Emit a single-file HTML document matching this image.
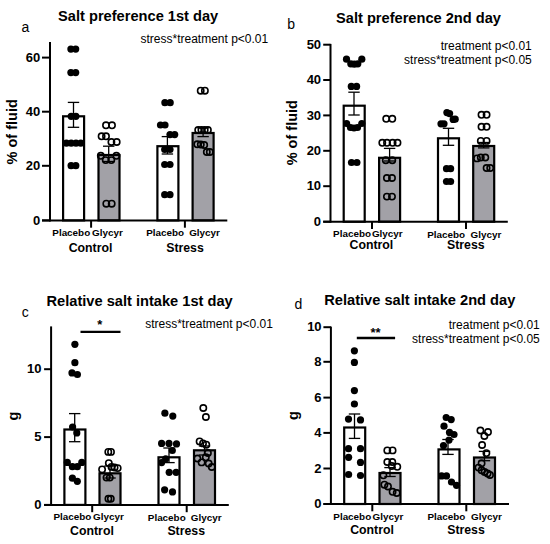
<!DOCTYPE html>
<html><head><meta charset="utf-8"><style>
html,body{margin:0;padding:0;background:#fff;width:550px;height:544px;overflow:hidden}
svg{display:block}
text{font-family:"Liberation Sans",sans-serif;fill:#000}
</style></head><body>
<svg width="550" height="544" viewBox="0 0 550 544">
<rect x="63.10" y="116.30" width="21.00" height="104.10" fill="#fff" stroke="#000" stroke-width="2.2"/>
<rect x="98.50" y="155.00" width="21.00" height="65.40" fill="#a2a1a7" stroke="#000" stroke-width="2.2"/>
<rect x="157.40" y="146.20" width="21.00" height="74.20" fill="#fff" stroke="#000" stroke-width="2.2"/>
<rect x="192.60" y="133.00" width="21.00" height="87.40" fill="#a2a1a7" stroke="#000" stroke-width="2.2"/>
<line x1="73.5" y1="102.4" x2="73.5" y2="127.3" stroke="#000" stroke-width="1.3"/>
<line x1="67.8" y1="102.4" x2="79.2" y2="102.4" stroke="#000" stroke-width="1.3"/>
<line x1="67.8" y1="127.3" x2="79.2" y2="127.3" stroke="#000" stroke-width="1.3"/>
<line x1="108.7" y1="146.2" x2="108.7" y2="161.5" stroke="#000" stroke-width="1.3"/>
<line x1="103.0" y1="146.2" x2="114.4" y2="146.2" stroke="#000" stroke-width="1.3"/>
<line x1="103.0" y1="161.5" x2="114.4" y2="161.5" stroke="#000" stroke-width="1.3"/>
<line x1="167.4" y1="136.6" x2="167.4" y2="154.0" stroke="#000" stroke-width="1.3"/>
<line x1="161.70000000000002" y1="136.6" x2="173.1" y2="136.6" stroke="#000" stroke-width="1.3"/>
<line x1="161.70000000000002" y1="154.0" x2="173.1" y2="154.0" stroke="#000" stroke-width="1.3"/>
<line x1="203.1" y1="128.0" x2="203.1" y2="136.6" stroke="#000" stroke-width="1.3"/>
<line x1="197.4" y1="128.0" x2="208.79999999999998" y2="128.0" stroke="#000" stroke-width="1.3"/>
<line x1="197.4" y1="136.6" x2="208.79999999999998" y2="136.6" stroke="#000" stroke-width="1.3"/>
<circle cx="70.9" cy="49.1" r="3.6" fill="#000"/>
<circle cx="75.7" cy="49.1" r="3.6" fill="#000"/>
<circle cx="70.9" cy="72.6" r="3.6" fill="#000"/>
<circle cx="75.7" cy="72.6" r="3.6" fill="#000"/>
<circle cx="71.2" cy="116.3" r="3.6" fill="#000"/>
<circle cx="75.9" cy="116.3" r="3.6" fill="#000"/>
<circle cx="66.4" cy="143.2" r="3.6" fill="#000"/>
<circle cx="71.2" cy="143.2" r="3.6" fill="#000"/>
<circle cx="76.0" cy="143.2" r="3.6" fill="#000"/>
<circle cx="80.8" cy="143.2" r="3.6" fill="#000"/>
<circle cx="71.1" cy="165.7" r="3.6" fill="#000"/>
<circle cx="75.8" cy="165.7" r="3.6" fill="#000"/>
<circle cx="106.0" cy="125.3" r="3.15" fill="none" stroke="#000" stroke-width="1.6"/>
<circle cx="112.0" cy="125.3" r="3.15" fill="none" stroke="#000" stroke-width="1.6"/>
<circle cx="101.6" cy="136.3" r="3.15" fill="none" stroke="#000" stroke-width="1.6"/>
<circle cx="106.0" cy="136.3" r="3.15" fill="none" stroke="#000" stroke-width="1.6"/>
<circle cx="111.4" cy="142.0" r="3.15" fill="none" stroke="#000" stroke-width="1.6"/>
<circle cx="116.7" cy="142.0" r="3.15" fill="none" stroke="#000" stroke-width="1.6"/>
<circle cx="100.8" cy="155.8" r="3.15" fill="none" stroke="#000" stroke-width="1.6"/>
<circle cx="116.4" cy="155.8" r="3.15" fill="none" stroke="#000" stroke-width="1.6"/>
<circle cx="105.7" cy="160.1" r="3.15" fill="none" stroke="#000" stroke-width="1.6"/>
<circle cx="111.3" cy="160.1" r="3.15" fill="none" stroke="#000" stroke-width="1.6"/>
<circle cx="106.3" cy="203.7" r="3.15" fill="none" stroke="#000" stroke-width="1.6"/>
<circle cx="111.7" cy="203.7" r="3.15" fill="none" stroke="#000" stroke-width="1.6"/>
<circle cx="164.9" cy="102.7" r="3.6" fill="#000"/>
<circle cx="170.2" cy="102.7" r="3.6" fill="#000"/>
<circle cx="160.5" cy="125.0" r="3.6" fill="#000"/>
<circle cx="165.0" cy="125.0" r="3.6" fill="#000"/>
<circle cx="170.0" cy="134.6" r="3.6" fill="#000"/>
<circle cx="174.7" cy="134.6" r="3.6" fill="#000"/>
<circle cx="164.7" cy="149.5" r="3.6" fill="#000"/>
<circle cx="170.0" cy="149.5" r="3.6" fill="#000"/>
<circle cx="164.7" cy="164.5" r="3.6" fill="#000"/>
<circle cx="170.0" cy="164.5" r="3.6" fill="#000"/>
<circle cx="164.7" cy="194.7" r="3.6" fill="#000"/>
<circle cx="170.0" cy="194.7" r="3.6" fill="#000"/>
<circle cx="200.7" cy="90.7" r="3.15" fill="none" stroke="#000" stroke-width="1.6"/>
<circle cx="204.9" cy="90.7" r="3.15" fill="none" stroke="#000" stroke-width="1.6"/>
<circle cx="198.2" cy="130.0" r="3.15" fill="none" stroke="#000" stroke-width="1.6"/>
<circle cx="201.4" cy="130.0" r="3.15" fill="none" stroke="#000" stroke-width="1.6"/>
<circle cx="204.7" cy="130.0" r="3.15" fill="none" stroke="#000" stroke-width="1.6"/>
<circle cx="207.9" cy="130.0" r="3.15" fill="none" stroke="#000" stroke-width="1.6"/>
<circle cx="197.3" cy="144.3" r="3.15" fill="none" stroke="#000" stroke-width="1.6"/>
<circle cx="200.8" cy="144.5" r="3.15" fill="none" stroke="#000" stroke-width="1.6"/>
<circle cx="204.2" cy="145.0" r="3.15" fill="none" stroke="#000" stroke-width="1.6"/>
<circle cx="206.8" cy="152.0" r="3.15" fill="none" stroke="#000" stroke-width="1.6"/>
<circle cx="209.8" cy="152.0" r="3.15" fill="none" stroke="#000" stroke-width="1.6"/>
<line x1="50.0" y1="42" x2="50.0" y2="221.4" stroke="#000" stroke-width="2"/>
<line x1="42" y1="220.4" x2="227.3" y2="220.4" stroke="#000" stroke-width="2"/>
<line x1="42" y1="57.6" x2="50.0" y2="57.6" stroke="#000" stroke-width="2"/>
<text x="40.3" y="61.800000000000004" font-size="13.0" font-weight="bold" text-anchor="end" >60</text>
<line x1="42" y1="111.7" x2="50.0" y2="111.7" stroke="#000" stroke-width="2"/>
<text x="40.3" y="115.9" font-size="13.0" font-weight="bold" text-anchor="end" >40</text>
<line x1="42" y1="165.8" x2="50.0" y2="165.8" stroke="#000" stroke-width="2"/>
<text x="40.3" y="170.0" font-size="13.0" font-weight="bold" text-anchor="end" >20</text>
<line x1="42" y1="220.4" x2="50.0" y2="220.4" stroke="#000" stroke-width="2"/>
<text x="40.3" y="224.6" font-size="13.0" font-weight="bold" text-anchor="end" >0</text>
<line x1="91.1" y1="220.4" x2="91.1" y2="227.70000000000002" stroke="#000" stroke-width="2"/>
<line x1="184.9" y1="220.4" x2="184.9" y2="227.70000000000002" stroke="#000" stroke-width="2"/>
<text x="52.3" y="236.0" font-size="9.9" font-weight="bold" text-anchor="start" >Placebo</text>
<text x="92.0" y="236.0" font-size="9.9" font-weight="bold" text-anchor="start" >Glycyr</text>
<text x="146.2" y="236.1" font-size="9.9" font-weight="bold" text-anchor="start" >Placebo</text>
<text x="189.2" y="236.1" font-size="9.9" font-weight="bold" text-anchor="start" >Glycyr</text>
<text x="68.7" y="252.3" font-size="12.3" font-weight="bold" text-anchor="start" >Control</text>
<text x="166.2" y="252.0" font-size="12.3" font-weight="bold" text-anchor="start" >Stress</text>
<text x="58.1" y="21.3" font-size="14.63" font-weight="bold" text-anchor="start" >Salt preference 1st day</text>
<text x="21.6" y="31.6" font-size="14" font-weight="normal" text-anchor="start" >a</text>
<text x="268.2" y="43.0" font-size="12" font-weight="normal" text-anchor="end" >stress*treatment p&lt;0.01</text>
<text x="0" y="0" font-size="14.5" font-weight="bold" text-anchor="middle" transform="translate(16.6,131.8) rotate(-90)">% of fluid</text>
<rect x="343.70" y="105.70" width="21.00" height="116.00" fill="#fff" stroke="#000" stroke-width="2.2"/>
<rect x="379.10" y="157.80" width="21.00" height="63.90" fill="#a2a1a7" stroke="#000" stroke-width="2.2"/>
<rect x="438.00" y="138.30" width="21.00" height="83.40" fill="#fff" stroke="#000" stroke-width="2.2"/>
<rect x="473.20" y="146.00" width="21.00" height="75.70" fill="#a2a1a7" stroke="#000" stroke-width="2.2"/>
<line x1="354.0" y1="92.2" x2="354.0" y2="115.0" stroke="#000" stroke-width="1.3"/>
<line x1="348.3" y1="92.2" x2="359.7" y2="92.2" stroke="#000" stroke-width="1.3"/>
<line x1="348.3" y1="115.0" x2="359.7" y2="115.0" stroke="#000" stroke-width="1.3"/>
<line x1="389.6" y1="148.4" x2="389.6" y2="161.0" stroke="#000" stroke-width="1.3"/>
<line x1="383.90000000000003" y1="148.4" x2="395.3" y2="148.4" stroke="#000" stroke-width="1.3"/>
<line x1="383.90000000000003" y1="161.0" x2="395.3" y2="161.0" stroke="#000" stroke-width="1.3"/>
<line x1="448.5" y1="128.3" x2="448.5" y2="145.3" stroke="#000" stroke-width="1.3"/>
<line x1="442.8" y1="128.3" x2="454.2" y2="128.3" stroke="#000" stroke-width="1.3"/>
<line x1="442.8" y1="145.3" x2="454.2" y2="145.3" stroke="#000" stroke-width="1.3"/>
<line x1="483.7" y1="142.5" x2="483.7" y2="147.9" stroke="#000" stroke-width="1.3"/>
<line x1="478.0" y1="142.5" x2="489.4" y2="142.5" stroke="#000" stroke-width="1.3"/>
<line x1="478.0" y1="147.9" x2="489.4" y2="147.9" stroke="#000" stroke-width="1.3"/>
<circle cx="346.5" cy="59.2" r="3.6" fill="#000"/>
<circle cx="361.8" cy="59.2" r="3.6" fill="#000"/>
<circle cx="350.8" cy="63.8" r="3.6" fill="#000"/>
<circle cx="354.3" cy="64.2" r="3.6" fill="#000"/>
<circle cx="357.8" cy="63.8" r="3.6" fill="#000"/>
<circle cx="351.3" cy="86.4" r="3.6" fill="#000"/>
<circle cx="356.6" cy="86.4" r="3.6" fill="#000"/>
<circle cx="346.6" cy="123.5" r="3.6" fill="#000"/>
<circle cx="361.8" cy="123.5" r="3.6" fill="#000"/>
<circle cx="350.5" cy="127.5" r="3.6" fill="#000"/>
<circle cx="354.0" cy="128.0" r="3.6" fill="#000"/>
<circle cx="357.5" cy="127.5" r="3.6" fill="#000"/>
<circle cx="351.5" cy="162.5" r="3.6" fill="#000"/>
<circle cx="356.9" cy="162.5" r="3.6" fill="#000"/>
<circle cx="386.2" cy="118.8" r="3.15" fill="none" stroke="#000" stroke-width="1.6"/>
<circle cx="392.3" cy="118.8" r="3.15" fill="none" stroke="#000" stroke-width="1.6"/>
<circle cx="382.3" cy="142.8" r="3.15" fill="none" stroke="#000" stroke-width="1.6"/>
<circle cx="387.0" cy="142.8" r="3.15" fill="none" stroke="#000" stroke-width="1.6"/>
<circle cx="392.6" cy="142.8" r="3.15" fill="none" stroke="#000" stroke-width="1.6"/>
<circle cx="397.5" cy="142.8" r="3.15" fill="none" stroke="#000" stroke-width="1.6"/>
<circle cx="385.8" cy="160.2" r="3.15" fill="none" stroke="#000" stroke-width="1.6"/>
<circle cx="392.3" cy="160.2" r="3.15" fill="none" stroke="#000" stroke-width="1.6"/>
<circle cx="386.9" cy="178.0" r="3.15" fill="none" stroke="#000" stroke-width="1.6"/>
<circle cx="392.0" cy="178.0" r="3.15" fill="none" stroke="#000" stroke-width="1.6"/>
<circle cx="386.9" cy="196.6" r="3.15" fill="none" stroke="#000" stroke-width="1.6"/>
<circle cx="392.0" cy="196.6" r="3.15" fill="none" stroke="#000" stroke-width="1.6"/>
<circle cx="446.9" cy="112.6" r="3.6" fill="#000"/>
<circle cx="449.6" cy="113.6" r="3.6" fill="#000"/>
<circle cx="453.2" cy="119.4" r="3.6" fill="#000"/>
<circle cx="455.2" cy="119.2" r="3.6" fill="#000"/>
<circle cx="441.0" cy="123.8" r="3.6" fill="#000"/>
<circle cx="444.0" cy="123.8" r="3.6" fill="#000"/>
<circle cx="446.5" cy="168.7" r="3.6" fill="#000"/>
<circle cx="450.6" cy="168.7" r="3.6" fill="#000"/>
<circle cx="446.5" cy="181.5" r="3.6" fill="#000"/>
<circle cx="450.6" cy="181.5" r="3.6" fill="#000"/>
<circle cx="481.5" cy="114.8" r="3.15" fill="none" stroke="#000" stroke-width="1.6"/>
<circle cx="486.6" cy="114.8" r="3.15" fill="none" stroke="#000" stroke-width="1.6"/>
<circle cx="481.5" cy="126.8" r="3.15" fill="none" stroke="#000" stroke-width="1.6"/>
<circle cx="486.6" cy="126.8" r="3.15" fill="none" stroke="#000" stroke-width="1.6"/>
<circle cx="480.8" cy="140.9" r="3.15" fill="none" stroke="#000" stroke-width="1.6"/>
<circle cx="486.6" cy="140.9" r="3.15" fill="none" stroke="#000" stroke-width="1.6"/>
<circle cx="477.0" cy="158.4" r="3.15" fill="none" stroke="#000" stroke-width="1.6"/>
<circle cx="480.8" cy="157.5" r="3.15" fill="none" stroke="#000" stroke-width="1.6"/>
<circle cx="485.3" cy="157.5" r="3.15" fill="none" stroke="#000" stroke-width="1.6"/>
<circle cx="486.6" cy="168.0" r="3.15" fill="none" stroke="#000" stroke-width="1.6"/>
<circle cx="490.2" cy="168.0" r="3.15" fill="none" stroke="#000" stroke-width="1.6"/>
<line x1="330.5" y1="43.9" x2="330.5" y2="222.7" stroke="#000" stroke-width="2"/>
<line x1="323.2" y1="221.7" x2="507.8" y2="221.7" stroke="#000" stroke-width="2"/>
<line x1="323.2" y1="44.7" x2="330.5" y2="44.7" stroke="#000" stroke-width="2"/>
<text x="321.1" y="48.900000000000006" font-size="13.0" font-weight="bold" text-anchor="end" >50</text>
<line x1="323.2" y1="80.0" x2="330.5" y2="80.0" stroke="#000" stroke-width="2"/>
<text x="321.1" y="84.2" font-size="13.0" font-weight="bold" text-anchor="end" >40</text>
<line x1="323.2" y1="115.4" x2="330.5" y2="115.4" stroke="#000" stroke-width="2"/>
<text x="321.1" y="119.60000000000001" font-size="13.0" font-weight="bold" text-anchor="end" >30</text>
<line x1="323.2" y1="150.8" x2="330.5" y2="150.8" stroke="#000" stroke-width="2"/>
<text x="321.1" y="155.0" font-size="13.0" font-weight="bold" text-anchor="end" >20</text>
<line x1="323.2" y1="186.2" x2="330.5" y2="186.2" stroke="#000" stroke-width="2"/>
<text x="321.1" y="190.39999999999998" font-size="13.0" font-weight="bold" text-anchor="end" >10</text>
<line x1="323.2" y1="221.7" x2="330.5" y2="221.7" stroke="#000" stroke-width="2"/>
<text x="321.1" y="225.89999999999998" font-size="13.0" font-weight="bold" text-anchor="end" >0</text>
<line x1="372.0" y1="221.7" x2="372.0" y2="229.0" stroke="#000" stroke-width="2"/>
<line x1="466.0" y1="221.7" x2="466.0" y2="229.0" stroke="#000" stroke-width="2"/>
<text x="333.1" y="236.8" font-size="9.9" font-weight="bold" text-anchor="start" >Placebo</text>
<text x="371.9" y="236.8" font-size="9.9" font-weight="bold" text-anchor="start" >Glycyr</text>
<text x="427.2" y="237.5" font-size="9.9" font-weight="bold" text-anchor="start" >Placebo</text>
<text x="470.6" y="237.5" font-size="9.9" font-weight="bold" text-anchor="start" >Glycyr</text>
<text x="349.5" y="248.9" font-size="12.3" font-weight="bold" text-anchor="start" >Control</text>
<text x="447.0" y="248.6" font-size="12.3" font-weight="bold" text-anchor="start" >Stress</text>
<text x="336.0" y="23.0" font-size="14.63" font-weight="bold" text-anchor="start" >Salt preference 2nd day</text>
<text x="287.3" y="28.9" font-size="14" font-weight="normal" text-anchor="start" >b</text>
<text x="531.8" y="50.1" font-size="12" font-weight="normal" text-anchor="end" >treatment p&lt;0.01</text>
<text x="531.8" y="64.0" font-size="12" font-weight="normal" text-anchor="end" >stress*treatment p&lt;0.05</text>
<text x="0" y="0" font-size="14.5" font-weight="bold" text-anchor="middle" transform="translate(297.3,132.7) rotate(-90)">% of fluid</text>
<rect x="64.40" y="429.50" width="21.00" height="75.40" fill="#fff" stroke="#000" stroke-width="2.2"/>
<rect x="99.50" y="473.30" width="21.00" height="31.60" fill="#a2a1a7" stroke="#000" stroke-width="2.2"/>
<rect x="158.50" y="457.30" width="21.00" height="47.60" fill="#fff" stroke="#000" stroke-width="2.2"/>
<rect x="194.00" y="450.30" width="21.00" height="54.60" fill="#a2a1a7" stroke="#000" stroke-width="2.2"/>
<line x1="74.7" y1="413.6" x2="74.7" y2="441.7" stroke="#000" stroke-width="1.3"/>
<line x1="69.0" y1="413.6" x2="80.4" y2="413.6" stroke="#000" stroke-width="1.3"/>
<line x1="69.0" y1="441.7" x2="80.4" y2="441.7" stroke="#000" stroke-width="1.3"/>
<line x1="110.0" y1="466.0" x2="110.0" y2="478.0" stroke="#000" stroke-width="1.3"/>
<line x1="104.3" y1="466.0" x2="115.7" y2="466.0" stroke="#000" stroke-width="1.3"/>
<line x1="104.3" y1="478.0" x2="115.7" y2="478.0" stroke="#000" stroke-width="1.3"/>
<line x1="169.0" y1="448.0" x2="169.0" y2="462.6" stroke="#000" stroke-width="1.3"/>
<line x1="163.3" y1="448.0" x2="174.7" y2="448.0" stroke="#000" stroke-width="1.3"/>
<line x1="163.3" y1="462.6" x2="174.7" y2="462.6" stroke="#000" stroke-width="1.3"/>
<line x1="204.5" y1="446.0" x2="204.5" y2="455.0" stroke="#000" stroke-width="1.3"/>
<line x1="198.8" y1="446.0" x2="210.2" y2="446.0" stroke="#000" stroke-width="1.3"/>
<line x1="198.8" y1="455.0" x2="210.2" y2="455.0" stroke="#000" stroke-width="1.3"/>
<circle cx="74.9" cy="344.3" r="3.6" fill="#000"/>
<circle cx="74.9" cy="362.7" r="3.6" fill="#000"/>
<circle cx="72.0" cy="372.9" r="3.6" fill="#000"/>
<circle cx="77.4" cy="374.5" r="3.6" fill="#000"/>
<circle cx="72.6" cy="427.0" r="3.6" fill="#000"/>
<circle cx="76.8" cy="432.9" r="3.6" fill="#000"/>
<circle cx="67.3" cy="462.4" r="3.6" fill="#000"/>
<circle cx="81.8" cy="462.4" r="3.6" fill="#000"/>
<circle cx="72.4" cy="466.7" r="3.6" fill="#000"/>
<circle cx="77.3" cy="466.7" r="3.6" fill="#000"/>
<circle cx="72.4" cy="478.2" r="3.6" fill="#000"/>
<circle cx="77.3" cy="481.3" r="3.6" fill="#000"/>
<circle cx="108.3" cy="451.9" r="3.15" fill="none" stroke="#000" stroke-width="1.6"/>
<circle cx="111.0" cy="451.9" r="3.15" fill="none" stroke="#000" stroke-width="1.6"/>
<circle cx="108.8" cy="463.1" r="3.15" fill="none" stroke="#000" stroke-width="1.6"/>
<circle cx="102.1" cy="469.4" r="3.15" fill="none" stroke="#000" stroke-width="1.6"/>
<circle cx="111.5" cy="466.9" r="3.15" fill="none" stroke="#000" stroke-width="1.6"/>
<circle cx="114.6" cy="467.5" r="3.15" fill="none" stroke="#000" stroke-width="1.6"/>
<circle cx="117.7" cy="468.1" r="3.15" fill="none" stroke="#000" stroke-width="1.6"/>
<circle cx="106.5" cy="477.6" r="3.15" fill="none" stroke="#000" stroke-width="1.6"/>
<circle cx="109.8" cy="477.6" r="3.15" fill="none" stroke="#000" stroke-width="1.6"/>
<circle cx="108.4" cy="498.8" r="3.15" fill="none" stroke="#000" stroke-width="1.6"/>
<circle cx="110.8" cy="498.8" r="3.15" fill="none" stroke="#000" stroke-width="1.6"/>
<circle cx="164.9" cy="413.2" r="3.6" fill="#000"/>
<circle cx="172.8" cy="416.1" r="3.6" fill="#000"/>
<circle cx="161.6" cy="443.4" r="3.6" fill="#000"/>
<circle cx="169.0" cy="443.4" r="3.6" fill="#000"/>
<circle cx="176.5" cy="443.9" r="3.6" fill="#000"/>
<circle cx="172.3" cy="450.5" r="3.6" fill="#000"/>
<circle cx="165.7" cy="458.8" r="3.6" fill="#000"/>
<circle cx="161.6" cy="462.6" r="3.6" fill="#000"/>
<circle cx="169.2" cy="472.3" r="3.6" fill="#000"/>
<circle cx="176.1" cy="472.3" r="3.6" fill="#000"/>
<circle cx="164.6" cy="489.8" r="3.6" fill="#000"/>
<circle cx="172.5" cy="491.9" r="3.6" fill="#000"/>
<circle cx="203.3" cy="408.0" r="3.15" fill="none" stroke="#000" stroke-width="1.6"/>
<circle cx="205.9" cy="417.0" r="3.15" fill="none" stroke="#000" stroke-width="1.6"/>
<circle cx="199.6" cy="441.4" r="3.15" fill="none" stroke="#000" stroke-width="1.6"/>
<circle cx="203.0" cy="443.4" r="3.15" fill="none" stroke="#000" stroke-width="1.6"/>
<circle cx="206.3" cy="444.7" r="3.15" fill="none" stroke="#000" stroke-width="1.6"/>
<circle cx="207.9" cy="453.0" r="3.15" fill="none" stroke="#000" stroke-width="1.6"/>
<circle cx="197.4" cy="458.5" r="3.15" fill="none" stroke="#000" stroke-width="1.6"/>
<circle cx="201.6" cy="462.4" r="3.15" fill="none" stroke="#000" stroke-width="1.6"/>
<circle cx="205.8" cy="457.3" r="3.15" fill="none" stroke="#000" stroke-width="1.6"/>
<circle cx="208.7" cy="463.5" r="3.15" fill="none" stroke="#000" stroke-width="1.6"/>
<circle cx="211.8" cy="467.0" r="3.15" fill="none" stroke="#000" stroke-width="1.6"/>
<line x1="51.1" y1="326.4" x2="51.1" y2="505.9" stroke="#000" stroke-width="2"/>
<line x1="44.1" y1="504.9" x2="228.8" y2="504.9" stroke="#000" stroke-width="2"/>
<line x1="44.1" y1="369.2" x2="51.1" y2="369.2" stroke="#000" stroke-width="2"/>
<text x="41.4" y="373.4" font-size="13.0" font-weight="bold" text-anchor="end" >10</text>
<line x1="44.1" y1="437.1" x2="51.1" y2="437.1" stroke="#000" stroke-width="2"/>
<text x="41.4" y="441.3" font-size="13.0" font-weight="bold" text-anchor="end" >5</text>
<line x1="44.1" y1="504.9" x2="51.1" y2="504.9" stroke="#000" stroke-width="2"/>
<text x="41.4" y="509.09999999999997" font-size="13.0" font-weight="bold" text-anchor="end" >0</text>
<line x1="92.2" y1="504.9" x2="92.2" y2="512.1999999999999" stroke="#000" stroke-width="2"/>
<line x1="186.7" y1="504.9" x2="186.7" y2="512.1999999999999" stroke="#000" stroke-width="2"/>
<text x="53.4" y="520.0" font-size="9.9" font-weight="bold" text-anchor="start" >Placebo</text>
<text x="93.0" y="520.0" font-size="9.9" font-weight="bold" text-anchor="start" >Glycyr</text>
<text x="147.8" y="520.6" font-size="9.9" font-weight="bold" text-anchor="start" >Placebo</text>
<text x="190.8" y="520.6" font-size="9.9" font-weight="bold" text-anchor="start" >Glycyr</text>
<text x="70.1" y="534.5" font-size="12.3" font-weight="bold" text-anchor="start" >Control</text>
<text x="167.4" y="534.5" font-size="12.3" font-weight="bold" text-anchor="start" >Stress</text>
<text x="46.5" y="305.7" font-size="14.63" font-weight="bold" text-anchor="start" >Relative salt intake 1st day</text>
<text x="21.8" y="316.6" font-size="14" font-weight="normal" text-anchor="start" >c</text>
<text x="272.9" y="327.7" font-size="12" font-weight="normal" text-anchor="end" >stress*treatment p&lt;0.01</text>
<text x="0" y="0" font-size="14.5" font-weight="bold" text-anchor="middle" transform="translate(17.9,416.0) rotate(-90)">g</text>
<line x1="80.5" y1="331.9" x2="120.5" y2="331.9" stroke="#000" stroke-width="2.3"/>
<text x="99.7" y="329.4" font-size="13" font-weight="bold" text-anchor="middle" >*</text>
<rect x="344.20" y="427.50" width="21.00" height="76.50" fill="#fff" stroke="#000" stroke-width="2.2"/>
<rect x="379.50" y="473.00" width="21.00" height="31.00" fill="#a2a1a7" stroke="#000" stroke-width="2.2"/>
<rect x="438.50" y="449.40" width="21.00" height="54.60" fill="#fff" stroke="#000" stroke-width="2.2"/>
<rect x="474.00" y="457.50" width="21.00" height="46.50" fill="#a2a1a7" stroke="#000" stroke-width="2.2"/>
<line x1="354.5" y1="414.0" x2="354.5" y2="438.4" stroke="#000" stroke-width="1.3"/>
<line x1="348.8" y1="414.0" x2="360.2" y2="414.0" stroke="#000" stroke-width="1.3"/>
<line x1="348.8" y1="438.4" x2="360.2" y2="438.4" stroke="#000" stroke-width="1.3"/>
<line x1="390.0" y1="467.6" x2="390.0" y2="476.5" stroke="#000" stroke-width="1.3"/>
<line x1="384.3" y1="467.6" x2="395.7" y2="467.6" stroke="#000" stroke-width="1.3"/>
<line x1="384.3" y1="476.5" x2="395.7" y2="476.5" stroke="#000" stroke-width="1.3"/>
<line x1="448.0" y1="439.5" x2="448.0" y2="454.4" stroke="#000" stroke-width="1.3"/>
<line x1="442.3" y1="439.5" x2="453.7" y2="439.5" stroke="#000" stroke-width="1.3"/>
<line x1="442.3" y1="454.4" x2="453.7" y2="454.4" stroke="#000" stroke-width="1.3"/>
<line x1="484.5" y1="451.4" x2="484.5" y2="460.7" stroke="#000" stroke-width="1.3"/>
<line x1="478.8" y1="451.4" x2="490.2" y2="451.4" stroke="#000" stroke-width="1.3"/>
<line x1="478.8" y1="460.7" x2="490.2" y2="460.7" stroke="#000" stroke-width="1.3"/>
<circle cx="354.4" cy="350.8" r="3.6" fill="#000"/>
<circle cx="354.4" cy="362.4" r="3.6" fill="#000"/>
<circle cx="354.4" cy="390.6" r="3.6" fill="#000"/>
<circle cx="354.4" cy="404.0" r="3.6" fill="#000"/>
<circle cx="348.5" cy="419.1" r="3.6" fill="#000"/>
<circle cx="360.5" cy="419.9" r="3.6" fill="#000"/>
<circle cx="348.5" cy="448.7" r="3.6" fill="#000"/>
<circle cx="360.5" cy="448.7" r="3.6" fill="#000"/>
<circle cx="348.6" cy="457.3" r="3.6" fill="#000"/>
<circle cx="360.5" cy="462.4" r="3.6" fill="#000"/>
<circle cx="348.6" cy="474.5" r="3.6" fill="#000"/>
<circle cx="360.5" cy="475.5" r="3.6" fill="#000"/>
<circle cx="387.3" cy="450.4" r="3.15" fill="none" stroke="#000" stroke-width="1.6"/>
<circle cx="392.6" cy="450.4" r="3.15" fill="none" stroke="#000" stroke-width="1.6"/>
<circle cx="387.3" cy="462.0" r="3.15" fill="none" stroke="#000" stroke-width="1.6"/>
<circle cx="392.3" cy="462.0" r="3.15" fill="none" stroke="#000" stroke-width="1.6"/>
<circle cx="391.8" cy="466.0" r="3.15" fill="none" stroke="#000" stroke-width="1.6"/>
<circle cx="397.3" cy="466.8" r="3.15" fill="none" stroke="#000" stroke-width="1.6"/>
<circle cx="383.4" cy="475.3" r="3.15" fill="none" stroke="#000" stroke-width="1.6"/>
<circle cx="384.4" cy="484.7" r="3.15" fill="none" stroke="#000" stroke-width="1.6"/>
<circle cx="388.0" cy="486.5" r="3.15" fill="none" stroke="#000" stroke-width="1.6"/>
<circle cx="392.6" cy="491.8" r="3.15" fill="none" stroke="#000" stroke-width="1.6"/>
<circle cx="396.7" cy="493.0" r="3.15" fill="none" stroke="#000" stroke-width="1.6"/>
<circle cx="446.2" cy="417.5" r="3.6" fill="#000"/>
<circle cx="451.2" cy="419.6" r="3.6" fill="#000"/>
<circle cx="444.0" cy="426.2" r="3.6" fill="#000"/>
<circle cx="449.5" cy="432.4" r="3.6" fill="#000"/>
<circle cx="454.0" cy="434.5" r="3.6" fill="#000"/>
<circle cx="449.0" cy="440.1" r="3.6" fill="#000"/>
<circle cx="443.5" cy="445.6" r="3.6" fill="#000"/>
<circle cx="441.6" cy="475.9" r="3.6" fill="#000"/>
<circle cx="446.5" cy="475.9" r="3.6" fill="#000"/>
<circle cx="451.5" cy="482.0" r="3.6" fill="#000"/>
<circle cx="456.5" cy="485.3" r="3.6" fill="#000"/>
<circle cx="480.4" cy="430.5" r="3.15" fill="none" stroke="#000" stroke-width="1.6"/>
<circle cx="488.0" cy="432.0" r="3.15" fill="none" stroke="#000" stroke-width="1.6"/>
<circle cx="484.4" cy="436.0" r="3.15" fill="none" stroke="#000" stroke-width="1.6"/>
<circle cx="482.1" cy="445.0" r="3.15" fill="none" stroke="#000" stroke-width="1.6"/>
<circle cx="486.4" cy="453.1" r="3.15" fill="none" stroke="#000" stroke-width="1.6"/>
<circle cx="481.6" cy="463.3" r="3.15" fill="none" stroke="#000" stroke-width="1.6"/>
<circle cx="478.5" cy="467.6" r="3.15" fill="none" stroke="#000" stroke-width="1.6"/>
<circle cx="481.6" cy="470.3" r="3.15" fill="none" stroke="#000" stroke-width="1.6"/>
<circle cx="484.6" cy="472.0" r="3.15" fill="none" stroke="#000" stroke-width="1.6"/>
<circle cx="487.6" cy="473.5" r="3.15" fill="none" stroke="#000" stroke-width="1.6"/>
<circle cx="490.0" cy="475.0" r="3.15" fill="none" stroke="#000" stroke-width="1.6"/>
<line x1="330.9" y1="326.6" x2="330.9" y2="505.0" stroke="#000" stroke-width="2"/>
<line x1="323.4" y1="504.0" x2="509.0" y2="504.0" stroke="#000" stroke-width="2"/>
<line x1="323.4" y1="327.2" x2="330.9" y2="327.2" stroke="#000" stroke-width="2"/>
<text x="321.6" y="331.4" font-size="13.0" font-weight="bold" text-anchor="end" >10</text>
<line x1="323.4" y1="361.8" x2="330.9" y2="361.8" stroke="#000" stroke-width="2"/>
<text x="321.6" y="366.0" font-size="13.0" font-weight="bold" text-anchor="end" >8</text>
<line x1="323.4" y1="397.6" x2="330.9" y2="397.6" stroke="#000" stroke-width="2"/>
<text x="321.6" y="401.8" font-size="13.0" font-weight="bold" text-anchor="end" >6</text>
<line x1="323.4" y1="432.9" x2="330.9" y2="432.9" stroke="#000" stroke-width="2"/>
<text x="321.6" y="437.09999999999997" font-size="13.0" font-weight="bold" text-anchor="end" >4</text>
<line x1="323.4" y1="468.5" x2="330.9" y2="468.5" stroke="#000" stroke-width="2"/>
<text x="321.6" y="472.7" font-size="13.0" font-weight="bold" text-anchor="end" >2</text>
<line x1="323.4" y1="504.0" x2="330.9" y2="504.0" stroke="#000" stroke-width="2"/>
<text x="321.6" y="508.2" font-size="13.0" font-weight="bold" text-anchor="end" >0</text>
<line x1="372.3" y1="504.0" x2="372.3" y2="511.3" stroke="#000" stroke-width="2"/>
<line x1="466.3" y1="504.0" x2="466.3" y2="511.3" stroke="#000" stroke-width="2"/>
<text x="333.3" y="519.5" font-size="9.9" font-weight="bold" text-anchor="start" >Placebo</text>
<text x="372.5" y="519.5" font-size="9.9" font-weight="bold" text-anchor="start" >Glycyr</text>
<text x="427.5" y="519.6" font-size="9.9" font-weight="bold" text-anchor="start" >Placebo</text>
<text x="471.0" y="519.6" font-size="9.9" font-weight="bold" text-anchor="start" >Glycyr</text>
<text x="350.2" y="534.1" font-size="12.3" font-weight="bold" text-anchor="start" >Control</text>
<text x="447.2" y="534.1" font-size="12.3" font-weight="bold" text-anchor="start" >Stress</text>
<text x="324.3" y="304.8" font-size="14.63" font-weight="bold" text-anchor="start" >Relative salt intake 2nd day</text>
<text x="294.6" y="309.0" font-size="14" font-weight="normal" text-anchor="start" >d</text>
<text x="539.8" y="329.2" font-size="12" font-weight="normal" text-anchor="end" >treatment p&lt;0.01</text>
<text x="539.8" y="343.4" font-size="12" font-weight="normal" text-anchor="end" >stress*treatment p&lt;0.05</text>
<text x="0" y="0" font-size="14.5" font-weight="bold" text-anchor="middle" transform="translate(297.9,415.5) rotate(-90)">g</text>
<line x1="356.8" y1="338.0" x2="395.1" y2="338.0" stroke="#000" stroke-width="2.3"/>
<text x="375.6" y="337.4" font-size="13" font-weight="bold" text-anchor="middle" >**</text>
</svg>
</body></html>
